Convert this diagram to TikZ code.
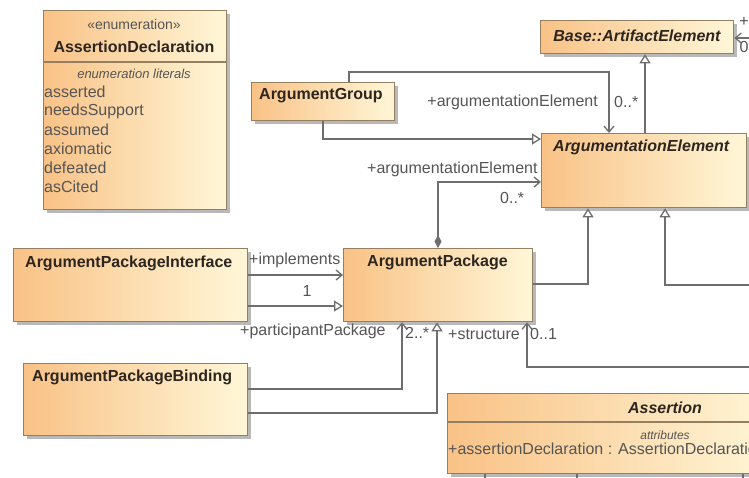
\documentclass[tikz,border=0pt]{standalone}
\usepackage{fontspec}
\setmainfont{Liberation Sans}
\usetikzlibrary{arrows.meta,shadows}
\definecolor{boxL}{RGB}{249,194,134}
\definecolor{boxR}{RGB}{255,247,216}
\definecolor{boxD}{RGB}{150,126,96}
\definecolor{lineC}{RGB}{110,110,110}
\definecolor{txtC}{RGB}{45,38,32}
\definecolor{lblC}{RGB}{85,85,85}
\tikzset{
  umlbox/.style={draw=boxD, line width=1.3pt, left color=boxL, right color=boxR,
    drop shadow={shadow xshift=3pt, shadow yshift=-3pt, fill=black!50, opacity=0.55},
    inner sep=0pt, anchor=north west},
  ttl/.style={font=\fontsize{16}{19}\selectfont\bfseries, text=txtC, inner sep=0pt},
  ttli/.style={font=\fontsize{16}{19}\selectfont\bfseries\itshape, text=txtC, inner sep=0pt},
  lbl/.style={font=\fontsize{16}{19}\selectfont, text=lblC, inner sep=0pt},
  lit/.style={font=\fontsize{16}{19}\selectfont, text=lblC, inner sep=0pt, anchor=west},
  small/.style={font=\fontsize{13}{15}\selectfont\itshape, text=lblC, inner sep=0pt},
  conn/.style={draw=lineC, line width=1.5pt},
  stick/.style={-{Straight Barb[length=6pt,width=10pt,line width=1.3pt]}},
  gen/.style={-{Triangle[open,length=9pt,width=11pt,fill=white,line width=1.3pt]}},
  comp/.style={{Diamond[length=13pt,width=7pt,fill=lineC]}-{Straight Barb[length=6pt,width=10pt,line width=1.3pt]}},
}
\begin{document}
\begin{tikzpicture}[x=1pt,y=-1pt]
\useasboundingbox (0,0) rectangle (749,477);
\clip (0,0) rectangle (749,477);
\fill[white] (0,0) rectangle (749,477);

% label partly hidden by the ArgumentationElement box
\node[lbl,anchor=west] (l3) at (367,169) {+argumentationElement};

% boxes
\node[umlbox, minimum width=183pt, minimum height=199pt] (ad) at (43,10) {};
\draw[boxD, line width=1.2pt] (ad.west |- 0,62) -- (ad.east |- 0,62);
\node[umlbox, minimum width=193pt, minimum height=33pt] (bae) at (540,20) {};
\node[umlbox, minimum width=143pt, minimum height=38pt] (ag) at (251,82) {};
\node[umlbox, minimum width=205pt, minimum height=74pt] (ae) at (541,133) {};
\node[umlbox, minimum width=234pt, minimum height=73pt] (api) at (13,248) {};
\node[umlbox, minimum width=189pt, minimum height=73pt] (ap) at (343,248) {};
\node[umlbox, minimum width=224pt, minimum height=72pt] (apb) at (23,363) {};
\node[umlbox, minimum width=330pt, minimum height=80pt] (as) at (447,393) {};
\draw[boxD, line width=1.2pt] (as.west |- 0,422) -- (as.east |- 0,422);

% box texts
\node[lbl, font=\fontsize{14}{16}\selectfont] (adst) at (134,24) {«enumeration»};
\node[ttl] (adn) at (134,47) {AssertionDeclaration};
\node[small] (adsm) at (134,74) {enumeration literals};
\node[lit] (a1) at (44,92) {asserted};
\node[lit] (a2) at (44,111) {needsSupport};
\node[lit] (a3) at (44,130) {assumed};
\node[lit] (a4) at (44,149) {axiomatic};
\node[lit] (a5) at (44,168) {defeated};
\node[lit] (a6) at (44,187) {asCited};
\node[ttli] (baen) at (637,36) {Base::ArtifactElement};
\node[ttl, anchor=west] (agn) at (259,96) {ArgumentGroup};
\node[ttli, anchor=west] (aen) at (553,147) {ArgumentationElement};
\node[ttl, anchor=west] (apin) at (25,263) {ArgumentPackageInterface};
\node[ttl, anchor=west] (apn) at (367,262) {ArgumentPackage};
\node[ttl, anchor=west] (apbn) at (32,377) {ArgumentPackageBinding};
\node[ttli] (asn) at (665,408) {Assertion};
\node[small, font=\fontsize{12}{14}\selectfont\itshape] (assm) at (665,435) {attributes};
\node[lit] (asat) at (448,449) {+assertionDeclaration : AssertionDeclaration};

% port coordinates
\coordinate (agT) at ([xshift=98pt]ag.north west);
\coordinate (aeT1) at ([xshift=68pt]ae.north west);
\coordinate (agB) at ([xshift=72pt]ag.south west);
\coordinate (aeL1) at ([yshift=-6pt]ae.north west);
\coordinate (aeT2) at ([xshift=104pt]ae.north west);
\coordinate (apT) at ([xshift=95pt]ap.north west);
\coordinate (aeL2) at ([yshift=-49pt]ae.north west);
\coordinate (apR) at ([yshift=-36pt]ap.north east);
\coordinate (aeB1) at ([xshift=47pt]ae.south west);
\coordinate (aeB2) at ([xshift=124pt]ae.south west);
\coordinate (r6) at (749,285);
\coordinate (apiR1) at ([yshift=-27pt]api.north east);
\coordinate (apL1) at ([yshift=-27pt]ap.north west);
\coordinate (apiR2) at ([yshift=-58pt]api.north east);
\coordinate (apL2) at ([yshift=-58pt]ap.north west);
\coordinate (apbR1) at ([yshift=-26pt]apb.north east);
\coordinate (apB1) at ([xshift=59pt]ap.south west);
\coordinate (apbR2) at ([yshift=-50pt]apb.north east);
\coordinate (apB2) at ([xshift=94pt]ap.south west);
\coordinate (r11) at (749,367);
\coordinate (apB3) at ([xshift=184pt]ap.south west);
\coordinate (r12) at (749,38);
\coordinate (baeR) at ([yshift=-18pt]bae.north east);

% connectors
\draw[conn,stick] (agT) -- ++(0,-10) -| (aeT1);
\draw[conn,gen] (agB) |- (aeL1);
\draw[conn,gen] (aeT2) -- (aeT2 |- bae.south);
\draw[conn,comp] (apT) |- (aeL2);
\draw[conn,gen] (apR) -| (aeB1);
\draw[conn,gen] (r6) -| (aeB2);
\draw[conn,stick] (apiR1) -- (apL1);
\draw[conn,gen] (apiR2) -- (apL2);
\draw[conn,stick] (apbR1) -| (apB1);
\draw[conn,gen] (apbR2) -| (apB2);
\draw[conn,stick] (r11) -| (apB3);
\draw[conn,stick] (r12) -- (baeR);
\draw[conn] ([xshift=38pt]as.south west) -- ++(0,8);
\draw[conn] ([xshift=130pt]as.south west) -- ++(0,8);
\draw[conn] ([xshift=296pt]as.south west) -- ++(0,8);

% connector labels
\node[lbl,anchor=east] (l1) at (598,102) {+argumentationElement};
\node[lbl,anchor=west] (l2) at (614,102) {0..*};
\node[lbl,anchor=west] (l4) at (500,198) {0..*};
\node[lbl,anchor=west] (l5) at (249,260) {+implements};
\node[lbl] (l6) at (307,291) {1};
\node[lbl,anchor=west] (l7) at (240,331) {+participantPackage};
\node[lbl,anchor=west] (l8) at (405,333) {2..*};
\node[lbl,anchor=west] (l9) at (448,334) {+structure};
\node[lbl,anchor=west] (l10) at (530,334) {0..1};
\node[lbl] (l11) at (744,22) {+};
\node[lbl] (l12) at (744,47) {0};
\end{tikzpicture}
\end{document}
